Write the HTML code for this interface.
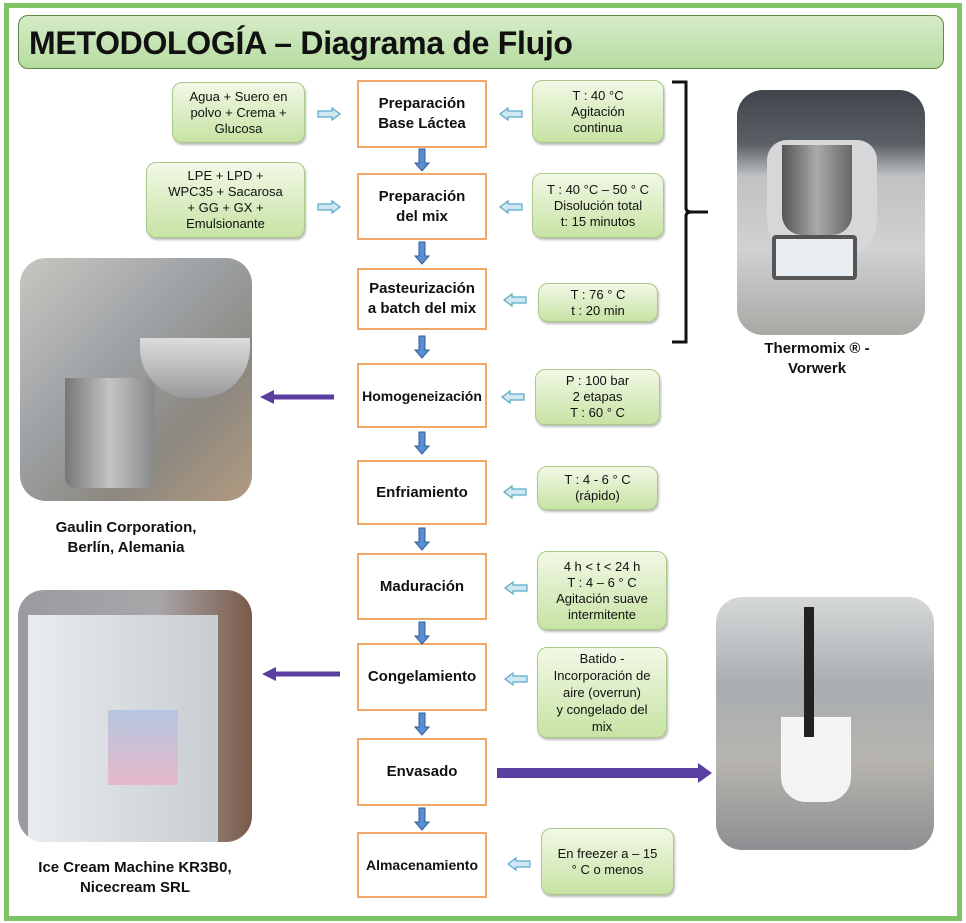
<!DOCTYPE html>
<html><head><meta charset="utf-8"><style>
*{margin:0;padding:0;box-sizing:border-box}
body{width:966px;height:923px;background:#fff;position:relative;overflow:hidden;font-family:"Liberation Sans",sans-serif}
.a{position:absolute}
.frame{left:4px;top:3px;width:958px;height:918px;border:5px solid #7cc466}
.hdr{left:18px;top:15px;width:926px;height:54px;border-radius:10px;border:1.5px solid #5f8a4a;background:linear-gradient(#d6ecc9,#b6dca0);font-family:"Liberation Sans",sans-serif;font-weight:bold;font-size:32px;padding:9px 0 0 10px;color:#111;letter-spacing:-0.3px}
.c{border:2px solid #f0a868;background:#fff;display:flex;align-items:center;justify-content:center;text-align:center;font-weight:bold;font-size:15px;line-height:20px;color:#111;width:130px;left:357px}
.g{border-radius:10px;border:1px solid #a9c98a;background:linear-gradient(#f2f8e6,#c7e3a4);display:flex;align-items:center;justify-content:center;text-align:center;font-size:13px;line-height:16px;color:#111;box-shadow:1px 2px 2px #bbb}
.ph{border-radius:26px;overflow:hidden}
.cap{font-family:"Liberation Sans",sans-serif;font-weight:bold;font-size:15px;line-height:20px;text-align:center;color:#111}
</style></head><body>
<div class="a frame"></div>
<div class="a hdr">METODOLOGÍA – Diagrama de Flujo</div>

<div class="a c" style="top:80px;height:68px">Preparación<br>Base Láctea</div>
<div class="a c" style="top:173px;height:67px">Preparación<br>del mix</div>
<div class="a c" style="top:268px;height:62px">Pasteurización<br>a batch del mix</div>
<div class="a c" style="top:363px;height:65px;font-size:14px">Homogeneización</div>
<div class="a c" style="top:460px;height:65px">Enfriamiento</div>
<div class="a c" style="top:553px;height:67px">Maduración</div>
<div class="a c" style="top:643px;height:68px">Congelamiento</div>
<div class="a c" style="top:738px;height:68px">Envasado</div>
<div class="a c" style="top:832px;height:66px;font-size:14px">Almacenamiento</div>

<div class="a g" style="left:172px;top:82px;width:133px;height:61px">Agua + Suero en<br>polvo + Crema +<br>Glucosa</div>
<div class="a g" style="left:146px;top:162px;width:159px;height:76px">LPE + LPD +<br>WPC35 + Sacarosa<br>+ GG + GX +<br>Emulsionante</div>

<div class="a g" style="left:532px;top:80px;width:132px;height:63px">T : 40 °C<br>Agitación<br>continua</div>
<div class="a g" style="left:532px;top:173px;width:132px;height:65px">T : 40 °C – 50 ° C<br>Disolución total<br>t: 15 minutos</div>
<div class="a g" style="left:538px;top:283px;width:120px;height:39px">T : 76 ° C<br>t : 20 min</div>
<div class="a g" style="left:535px;top:369px;width:125px;height:56px">P : 100 bar<br>2 etapas<br>T : 60 ° C</div>
<div class="a g" style="left:537px;top:466px;width:121px;height:44px">T : 4 - 6 ° C<br>(rápido)</div>
<div class="a g" style="left:537px;top:551px;width:130px;height:79px">4 h &lt; t &lt; 24 h<br>T : 4 – 6 ° C<br>Agitación suave<br>intermitente</div>
<div class="a g" style="left:537px;top:647px;width:130px;height:91px;line-height:17px">Batido -<br>Incorporación de<br>aire (overrun)<br>y congelado del<br>mix</div>
<div class="a g" style="left:541px;top:828px;width:133px;height:67px">En freezer a – 15<br>° C o menos</div>

<svg class="a" style="left:0;top:0" width="966" height="923">
<defs>
<g id="hl"><path d="M0,-3 L14,-3 L14,-6 L22,0 L14,6 L14,3 L0,3Z" fill="#cfe8f2" stroke="#5aa9c9" stroke-width="1.2"/></g>
<g id="dw"><path d="M-3,0 L3,0 L3,14 L7,14 L0,22 L-7,14 L-3,14Z" fill="#5b8ed1" stroke="#2f5f99" stroke-width="1"/></g>
</defs>
<use href="#hl" x="318" y="114"/>
<use href="#hl" x="318" y="207"/>
<g transform="translate(522,114) scale(-1,1)"><use href="#hl"/></g>
<g transform="translate(522,207) scale(-1,1)"><use href="#hl"/></g>
<g transform="translate(526,300) scale(-1,1)"><use href="#hl"/></g>
<g transform="translate(524,397) scale(-1,1)"><use href="#hl"/></g>
<g transform="translate(526,492) scale(-1,1)"><use href="#hl"/></g>
<g transform="translate(527,588) scale(-1,1)"><use href="#hl"/></g>
<g transform="translate(527,679) scale(-1,1)"><use href="#hl"/></g>
<g transform="translate(530,864) scale(-1,1)"><use href="#hl"/></g>
<use href="#dw" x="422" y="149"/>
<use href="#dw" x="422" y="242"/>
<use href="#dw" x="422" y="336"/>
<use href="#dw" x="422" y="432"/>
<use href="#dw" x="422" y="528"/>
<use href="#dw" x="422" y="622"/>
<use href="#dw" x="422" y="713"/>
<use href="#dw" x="422" y="808"/>
<path d="M672,82 L686,82 L686,208 Q686,212 692,212 L708,212 L692,212 Q686,212 686,216 L686,342 L672,342" fill="none" stroke="#111" stroke-width="3"/>
<path d="M334,397 L272,397" stroke="#5b3fa0" stroke-width="5"/><path d="M260,397 L274,390 L274,404Z" fill="#5b3fa0"/>
<path d="M340,674 L274,674" stroke="#5b3fa0" stroke-width="5"/><path d="M262,674 L276,667 L276,681Z" fill="#5b3fa0"/>
<path d="M497,773 L700,773" stroke="#5b3fa0" stroke-width="10"/><path d="M712,773 L698,763 L698,783Z" fill="#5b3fa0"/>
</svg>

<div class="a ph" style="left:737px;top:90px;width:188px;height:245px;background:linear-gradient(#3f454b 0,#5a6066 22%,#bfc1c3 35%,#d0d1d3 65%,#a9a8a4 100%)">
<div class="a" style="left:30px;top:50px;width:110px;height:120px;background:#d7d7da;border-radius:20px 20px 40px 40px"></div>
<div class="a" style="left:45px;top:55px;width:70px;height:90px;background:linear-gradient(90deg,#555,#aaa,#666);border-radius:0 0 20px 20px"></div>
<div class="a" style="left:35px;top:145px;width:85px;height:45px;background:#e9eef2;border:4px solid #555;border-radius:4px"></div>
</div>
<div class="a cap" style="left:737px;top:339px;width:160px">Thermomix ® -<br>Vorwerk</div>

<div class="a ph" style="left:20px;top:258px;width:232px;height:243px;background:linear-gradient(135deg,#c9c6c0,#9ea2a6 40%,#8c8880 70%,#b29a80)">
<div class="a" style="left:45px;top:120px;width:90px;height:110px;background:linear-gradient(90deg,#777,#c4c4c4,#888);border-radius:0 0 10px 10px"></div>
<div class="a" style="left:120px;top:80px;width:110px;height:60px;background:linear-gradient(#ddd,#999);border-radius:0 0 50px 50px"></div>
</div>
<div class="a cap" style="left:20px;top:518px;width:212px">Gaulin Corporation,<br>Berlín, Alemania</div>

<div class="a ph" style="left:18px;top:590px;width:234px;height:252px;background:linear-gradient(90deg,#9c9aa0,#a7a6a8 60%,#7a5a48)">
<div class="a" style="left:10px;top:25px;width:190px;height:227px;background:linear-gradient(90deg,#e9ecef,#c8cdd2);"></div>
<div class="a" style="left:90px;top:120px;width:70px;height:75px;background:linear-gradient(#b5c6e0,#e6b9c9)"></div>
</div>
<div class="a cap" style="left:10px;top:858px;width:250px">Ice Cream Machine KR3B0,<br>Nicecream SRL</div>

<div class="a ph" style="left:716px;top:597px;width:218px;height:253px;background:linear-gradient(#d6d8d8,#a9aeb2 35%,#b7b4ae 65%,#8d8f92)">
<div class="a" style="left:65px;top:120px;width:70px;height:85px;background:#f4f4f4;border-radius:0 0 25px 25px"></div>
<div class="a" style="left:88px;top:10px;width:10px;height:130px;background:#222"></div>
</div>
</body></html>
